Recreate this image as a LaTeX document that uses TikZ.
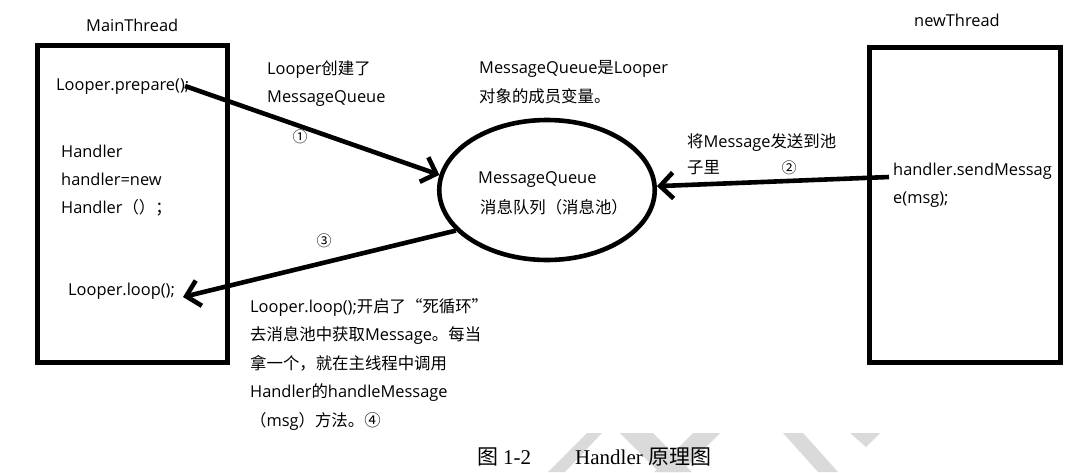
\documentclass[tikz,border=0pt]{standalone}
\usepackage{fontspec}
\setmainfont{Open Sans}
\newfontfamily\cjkfont{Noto Sans CJK SC}
\newfontfamily\capfont{Liberation Serif}
\usetikzlibrary{shapes.geometric,arrows.meta}
\newcommand\zh[1]{{\cjkfont #1}}
\definecolor{wm}{HTML}{DADADA}
\begin{document}
\begin{tikzpicture}[x=1pt,y=-1pt,
  txt/.style={anchor=base west, inner sep=0pt, font=\fontsize{16.4}{20}\selectfont},
  captxt/.style={anchor=base west, inner sep=0pt, font=\fontsize{21}{24}\selectfont\capfont},
  num/.style={inner sep=0pt, font=\fontsize{15}{18}\selectfont\cjkfont},
  thread/.style={draw, line width=4.6pt, inner sep=0pt},
  conn/.style={line width=4.6pt, -{Straight Barb[length=13pt,width=26pt]}},
]
\useasboundingbox (0,0) rectangle (1079,472);

% watermark
\begin{scope}
  \clip (0,433) rectangle (1079,472);
  \fill[wm] (587,433) -- (602,433) -- (565,472) -- (548,472) -- cycle;
  \fill[wm] (620,433) -- (653,433) -- (692,472) -- (659,472) -- cycle;
  \fill[wm] (693,433) -- (720,433) -- (681,472) -- (654,472) -- cycle;
  \fill[wm] (783,433) -- (803,433) -- (838,472) -- (818,472) -- cycle;
  \fill[wm] (850,433) -- (880,433) -- (866,447) -- cycle;
\end{scope}

% thread boxes
\node[thread, minimum width=190.5pt, minimum height=317.4pt] (mainbox) at (132.5,204) {};
\node[thread, minimum width=191pt, minimum height=315pt] (newbox) at (965,205) {};
\node[txt] (mainlbl) at (86,31) {MainThread};
\node[txt] (newlbl) at (914,26) {newThread};

% message queue
\node[draw, ellipse, line width=4.6pt, inner sep=0pt, minimum width=215.5pt, minimum height=140pt] (mq) at (547,190) {};
\node[txt] (mq1) at (478,183) {MessageQueue};
\node[txt] (mq2) at (480,213) {\zh{消息队列（消息池）}};

% main thread code
\node[txt] (prep) at (56,90) {Looper.prepare();};
\node[txt] (h1) at (61,157) {Handler};
\node[txt] (h2) at (61,185) {handler=new};
\node[txt] (h3) at (61,213) {Handler\zh{（）；}};
\node[txt] (loop) at (68,295) {Looper.loop();};

% new thread code
\node[txt] (send1) at (893,175) {handler.sendMessag};
\node[txt] (send2) at (893,203) {e(msg);};

% annotations
\node[txt] (a1) at (267,74) {Looper\zh{创建了}};
\node[txt] (a2) at (267,102) {MessageQueue};
\node[txt] (b1) at (479,73) {MessageQueue\zh{是}Looper};
\node[txt] (b2) at (479,102) {\zh{对象的成员变量。}};
\node[txt] (c1) at (687,147) {\zh{将}Message\zh{发送到池}};
\node[txt] (c2) at (687,173) {\zh{子里}};
\node[txt] (d1) at (250,312) {Looper.loop();\zh{开启了“死循环”}};
\node[txt] (d2) at (250,340.5) {\zh{去消息池中获取}Message\zh{。每当}};
\node[txt] (d3) at (250,369) {\zh{拿一个，就在主线程中调用}};
\node[txt] (d4) at (250,397.5) {Handler\zh{的}handleMessage};
\node[txt] (d5) at (250,426) {\zh{（}msg\zh{）方法。④}};

% step numbers
\node[num] (n1) at (300,137) {①};
\node[num] (n2) at (789,168) {②};
\node[num] (n3) at (324,241) {③};

% connectors
\coordinate (p1) at (185,86);
\coordinate (p2) at (889,177);
\coordinate (p3) at (183,297);
\draw[conn] (p1) -- (mq.172);
\draw[conn] (p2) -- (mq.2);
\draw[conn] (mq.204) -- (p3);

% caption
\node[captxt] (cap1) at (477,464) {\zh{图}};
\node[captxt] (cap2) at (503,464) {1-2};
\node[captxt] (cap3) at (575,464) {Handler};
\node[captxt] (cap4) at (648,464) {\zh{原理图}};
\end{tikzpicture}
\end{document}
